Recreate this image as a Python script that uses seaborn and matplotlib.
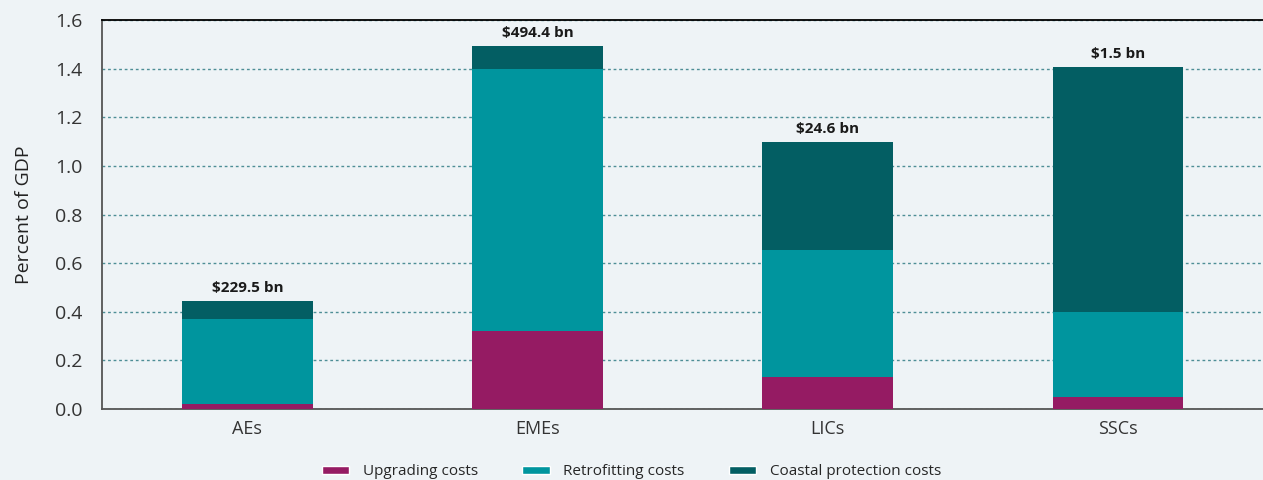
import numpy as np
import pandas as pd
import matplotlib.pyplot as plt
import seaborn as sns
from matplotlib.patches import Patch

# === Data ===
regions = ["AEs", "EMEs", "LICs", "SSCs"]
upgrading = [0.02, 0.32, 0.13, 0.05]
retrofitting = [0.35, 1.08, 0.525, 0.35]
coastal = [0.075, 0.095, 0.445, 1.007]
totals_label = ["$229.5 bn", "$494.4 bn", "$24.6 bn", "$1.5 bn"]
series_names = ["Upgrading costs", "Retrofitting costs", "Coastal protection costs"]
colors = ["#951B63", "#00959E", "#035E63"]

bg = "#EEF3F6"
sns.set_style("white")
plt.rcParams["font.family"] = ["Open Sans", "DejaVu Sans"]

fig, ax = plt.subplots(figsize=(12.63, 4.8), dpi=100)
fig.patch.set_facecolor(bg)
ax.set_facecolor(bg)
fig.subplots_adjust(left=0.081, right=1.0, top=0.958, bottom=0.148)

# 1. Stacked bars (each layer is the cumulative sum, drawn back to front)
df = pd.DataFrame({"region": regions, "Upgrading costs": upgrading,
                   "Retrofitting costs": retrofitting, "Coastal protection costs": coastal})
cum = df[series_names].cumsum(axis=1)
for name, col in reversed(list(zip(series_names, colors))):
    sns.barplot(x=df["region"], y=cum[name], color=col, width=0.45,
                saturation=1, linewidth=0, edgecolor="none", ax=ax, zorder=3)

# 2. Total labels
totals = cum["Coastal protection costs"].values
for i, (t, lab) in enumerate(zip(totals, totals_label)):
    ax.text(i, t + 0.025, lab, ha="center", va="bottom", fontsize=11,
            fontweight="bold", color="#1a1a1a")

# 3. Axes styling
ax.set_ylim(0, 1.6)
ax.set_xlim(-0.5, 3.5)
ax.set_yticks(np.arange(0, 1.61, 0.2))
ax.set_yticklabels([f"{v:.1f}" for v in np.arange(0, 1.61, 0.2)])
ax.yaxis.grid(True, linestyle=(0, (2, 2)), color="#4E8E96", linewidth=1, zorder=0)
ax.set_axisbelow(True)
ax.tick_params(axis="y", labelsize=14, colors="#333333", length=0, pad=14)
ax.tick_params(axis="x", labelsize=13, colors="#333333", length=0, pad=8)
ax.set_xlabel("")
ax.set_ylabel("Percent of GDP", fontsize=14, color="#222222", labelpad=16)
for s in ["left", "bottom"]:
    ax.spines[s].set_color("#555555")
    ax.spines[s].set_linewidth(1.3)
ax.spines["top"].set_color("black")
ax.spines["top"].set_linewidth(1.3)
ax.spines["right"].set_visible(False)

# 4. Legend
handles = [Patch(facecolor=c, label=n) for n, c in zip(series_names, colors)]
fig.legend(handles=handles, loc="lower center", ncol=3, frameon=False,
           bbox_to_anchor=(0.5, -0.027), fontsize=11, handlelength=1.8,
           handleheight=0.4, columnspacing=2.9, handletextpad=0.9)

plt.savefig("out.png", dpi=100, facecolor=bg)
